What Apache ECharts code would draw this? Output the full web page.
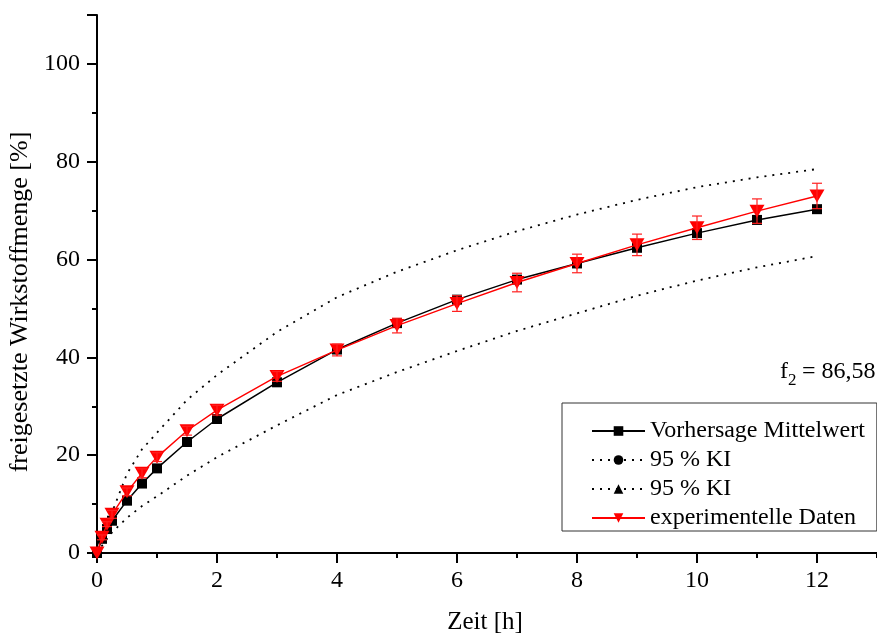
<!DOCTYPE html>
<html>
<head>
<meta charset="utf-8">
<script src="https://cdn.jsdelivr.net/npm/echarts@6/dist/echarts.min.js"></script>
<style>
  html, body { margin: 0; padding: 0; background: #fff; overflow: hidden; }
  #frame { position: relative; width: 877px; height: 634px; overflow: hidden; }
  /* the time axis runs on to 14 h, past the right edge of the frame */
  #chart { position: absolute; left: 0; top: 0; width: 937px; height: 634px; }
</style>
</head>
<body>
<div id="frame"><div id="chart"></div></div>
<script>
// Freisetzungszeitpunkte [h]
const zeit = [0, 0.083, 0.167, 0.25, 0.5, 0.75, 1, 1.5, 2, 3, 4, 5, 6, 7, 8, 9, 10, 11, 12];
// Vorhersage Mittelwert [%]
const vorhersage = [0, 2.9, 4.9, 6.6, 10.7, 14.2, 17.3, 22.7, 27.4, 34.9, 41.6, 47.0, 51.8, 55.9, 59.2, 62.4, 65.4, 68.1, 70.3];
// obere / untere Grenze des 95 %-Konfidenzintervalls [%]
const kiOben = [0, 3.5, 6.0, 8.3, 16.2, 21.2, 24.6, 31.3, 36.4, 45.2, 52.3, 57.5, 61.9, 65.8, 69.2, 72.2, 74.8, 76.8, 78.5];
const kiUnten = [0, 1.5, 2.9, 4.2, 7.2, 9.6, 11.6, 15.8, 19.6, 26.1, 32.3, 37.0, 41.3, 45.4, 49.0, 52.6, 55.7, 58.4, 60.7];
// experimentelle Daten [%] und Standardabweichung
const experimentell = [0, 3.2, 5.9, 7.9, 12.5, 16.3, 19.6, 25.0, 29.2, 36.1, 41.5, 46.5, 51.0, 55.3, 59.2, 63.0, 66.5, 69.9, 73.0];
const fehler = [0, 0.5, 0.5, 0.8, 0.8, 0.9, 0.9, 0.9, 1.0, 1.0, 1.2, 1.5, 1.6, 1.9, 1.9, 2.2, 2.4, 2.5, 2.6];

const xTicks = [0, 2, 4, 6, 8, 10, 12];
const yTicks = [0, 20, 40, 60, 80, 100];

const serif = '"Liberation Serif", "Times New Roman", serif';
const pairs = (ys) => zeit.map((x, i) => [x, ys[i]]);

const chart = echarts.init(document.getElementById('chart'), null, { renderer: 'canvas', width: 937, height: 634 });

const axisCommon = {
  axisLine: { show: true, onZero: false, lineStyle: { color: '#000', width: 2 } },
  axisTick: { show: true, inside: false, length: 10, lineStyle: { color: '#000', width: 2 } },
  minorTick: { show: true, splitNumber: 2, length: 5, lineStyle: { color: '#000', width: 2 } },
  splitLine: { show: false },
  axisLabel: { color: '#000', fontFamily: serif, fontSize: 24 },
  nameTextStyle: { color: '#000', fontFamily: serif, fontSize: 25 }
};

chart.setOption({
  animation: false,
  backgroundColor: '#fff',
  grid: { left: 97, right: 0, top: 15, bottom: 81, containLabel: false, outerBoundsMode: 'none' },
  xAxis: Object.assign({}, axisCommon, {
    type: 'value', min: 0, max: 14, interval: 2,
    name: 'Zeit [h]', nameLocation: 'middle', nameGap: 57,
    nameTextStyle: Object.assign({}, axisCommon.nameTextStyle, { padding: [0, 64, 0, 0] }),
    axisLabel: Object.assign({}, axisCommon.axisLabel, {
      margin: 16,
      formatter: (v) => xTicks.includes(v) ? String(v) : ''
    })
  }),
  yAxis: Object.assign({}, axisCommon, {
    type: 'value', min: 0, max: 110, interval: 20,
    name: 'freigesetzte Wirkstoffmenge [%]', nameLocation: 'middle', nameGap: 62,
    nameTextStyle: Object.assign({}, axisCommon.nameTextStyle, { fontSize: 26, padding: [0, 36, 0, 0] }),
    axisLabel: Object.assign({}, axisCommon.axisLabel, {
      margin: 17,
      formatter: (v) => yTicks.includes(v) ? String(v) : ''
    })
  }),
  legend: {
    orient: 'vertical',
    left: 562, top: 403,
    padding: [16, 12, 1, 29],
    itemWidth: 53, itemHeight: 12, itemGap: 5,
    borderColor: '#333', borderWidth: 1,
    backgroundColor: '#fff',
    textStyle: { color: '#000', fontFamily: serif, fontSize: 24, lineHeight: 24 },
    data: ['Vorhersage Mittelwert', '95 % KI ', '95 % KI', 'experimentelle Daten']
  },
  graphic: [
    { type: 'text', left: 780, top: 360, style: { text: 'f', fontFamily: serif, fontSize: 24, fill: '#000' } },
    { type: 'text', left: 788, top: 372, style: { text: '2', fontFamily: serif, fontSize: 17, fill: '#000' } },
    { type: 'text', left: 796, top: 360, style: { text: ' = 86,58', fontFamily: serif, fontSize: 24, fill: '#000' } }
  ],
  series: [
    {
      name: 'Vorhersage Mittelwert', type: 'line', data: pairs(vorhersage),
      symbol: 'rect', symbolSize: 10, showSymbol: true,
      itemStyle: { color: '#000' }, lineStyle: { color: '#000', width: 1.5 }, z: 3
    },
    {
      name: '95 % KI ', type: 'line', data: pairs(kiOben),
      symbol: 'circle', symbolSize: 5, showSymbol: false,
      itemStyle: { color: '#000' }, lineStyle: { color: '#000', width: 1.8, type: [2, 6] }, z: 2
    },
    {
      name: '95 % KI', type: 'line', data: pairs(kiUnten),
      symbol: 'triangle', symbolSize: 6, showSymbol: false,
      itemStyle: { color: '#000' }, lineStyle: { color: '#000', width: 1.8, type: [2, 6] }, z: 2
    },
    {
      name: 'experimentelle Daten', type: 'line', data: pairs(experimentell),
      symbol: 'triangle', symbolRotate: 180, symbolSize: [15, 13], showSymbol: true,
      itemStyle: { color: '#ff0000' }, lineStyle: { color: '#ff0000', width: 1.4 }, z: 4
    },
    {
      name: 'Fehlerbalken', type: 'custom', z: 5,
      data: zeit.map((x, i) => [x, experimentell[i], fehler[i]]),
      renderItem: (params, api) => {
        const x = api.value(0), y = api.value(1), e = api.value(2);
        if (!e) return null;
        const top = api.coord([x, y + e]);
        const bot = api.coord([x, y - e]);
        const hw = 5;
        const style = { stroke: '#ff2020', lineWidth: 1.2 };
        return {
          type: 'group',
          children: [
            { type: 'line', shape: { x1: top[0], y1: top[1], x2: bot[0], y2: bot[1] }, style },
            { type: 'line', shape: { x1: top[0] - hw, y1: top[1], x2: top[0] + hw, y2: top[1] }, style },
            { type: 'line', shape: { x1: bot[0] - hw, y1: bot[1], x2: bot[0] + hw, y2: bot[1] }, style }
          ]
        };
      }
    }
  ]
});
</script>
</body>
</html>
